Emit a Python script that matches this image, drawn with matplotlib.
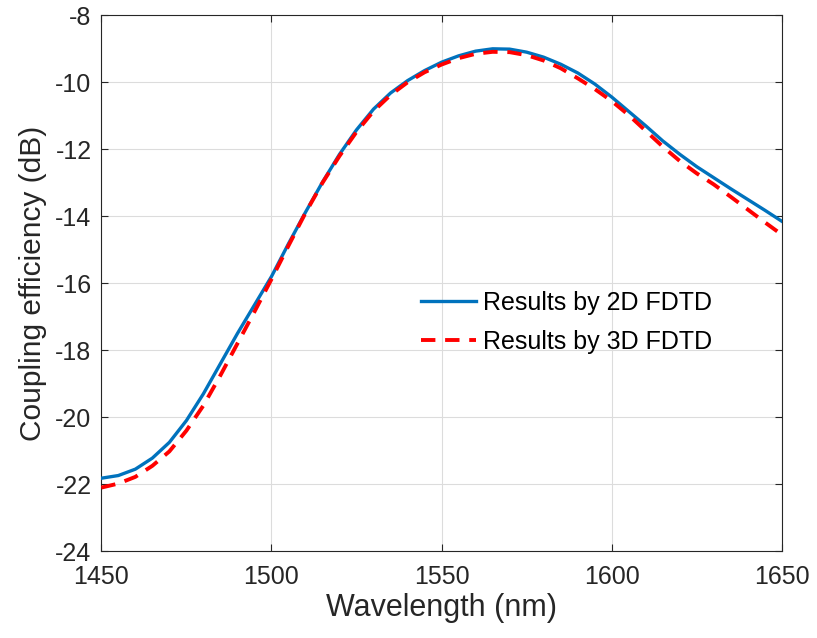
import matplotlib
matplotlib.use("Agg")
import matplotlib.pyplot as plt

# wavelength (nm) and coupling efficiency (dB)
wavelength = [1450, 1455, 1460, 1465, 1470, 1475, 1480, 1485, 1490, 1495,
              1500, 1505, 1510, 1515, 1520, 1525, 1530, 1535, 1540, 1545,
              1550, 1555, 1560, 1565, 1570, 1575, 1580, 1585, 1590, 1595,
              1600, 1605, 1610, 1615, 1620, 1625, 1630, 1635, 1640, 1645, 1650]

ce_2d = [-21.82, -21.74, -21.55, -21.22, -20.75, -20.10, -19.30, -18.40, -17.50, -16.65,
         -15.80, -14.82, -13.88, -12.98, -12.15, -11.42, -10.80, -10.32, -9.95, -9.65,
         -9.40, -9.21, -9.07, -9.00, -9.01, -9.10, -9.25, -9.46, -9.72, -10.05,
         -10.44, -10.87, -11.30, -11.75, -12.15, -12.52, -12.85, -13.18, -13.50, -13.82, -14.15]

ce_3d = [-22.10, -21.98, -21.78, -21.45, -21.02, -20.40, -19.65, -18.75, -17.80, -16.85,
         -15.88, -14.88, -13.90, -13.00, -12.20, -11.48, -10.86, -10.38, -10.00, -9.70,
         -9.47, -9.28, -9.15, -9.09, -9.10, -9.19, -9.35, -9.58, -9.88, -10.20,
         -10.56, -10.98, -11.45, -11.92, -12.35, -12.72, -13.05, -13.42, -13.80, -14.18, -14.55]

plt.rcParams["font.family"] = ["Liberation Sans", "DejaVu Sans"]
plt.rcParams["axes.unicode_minus"] = False

fig = plt.figure(figsize=(8.17, 6.38), dpi=100)
ax = fig.add_axes([0.124, 0.136, 0.833, 0.840])

ax.plot(wavelength, ce_2d, color="#0072BD", lw=2.4, label="Results by 2D FDTD", zorder=3)
ax.plot(wavelength, ce_3d, color="#FF0000", lw=2.8, dashes=(3.7, 2.5),
        label="Results by 3D FDTD", zorder=4)

ax.set_xlim(1450, 1650)
ax.set_ylim(-24, -8)
ax.set_xticks([1450, 1500, 1550, 1600, 1650])
ax.set_yticks(range(-24, -7, 2))
ax.grid(True, color="#dcdcdc", lw=0.8)
ax.set_axisbelow(True)

ax.tick_params(direction="in", top=True, right=True, labelsize=18,
               colors="#262626", length=5, width=0.8)
ax.tick_params(axis="x", pad=10)
ax.tick_params(axis="y", pad=7)
for s in ax.spines.values():
    s.set_color("#262626")
    s.set_linewidth(0.8)

ax.set_xlabel("Wavelength (nm)", fontsize=22, color="#262626", labelpad=3)
ax.set_ylabel("Coupling efficiency (dB)", fontsize=21.5, color="#262626", labelpad=6)

ax.legend(loc="upper left", bbox_to_anchor=(0.455, 0.505), frameon=False,
          fontsize=18, handlelength=2.2, handletextpad=0.3, labelspacing=0.6,
          borderaxespad=0)

fig.savefig("out.png", dpi=100)
